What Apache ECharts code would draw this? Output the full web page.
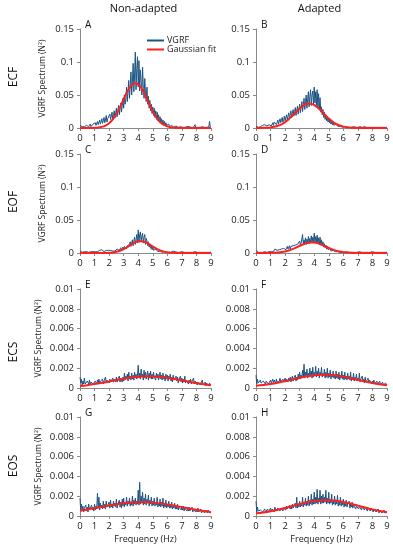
<!DOCTYPE html>
<html>
<head>
<meta charset="utf-8">
<script src="https://cdn.jsdelivr.net/npm/echarts@6/dist/echarts.min.js"></script>
<style>html,body{margin:0;padding:0;background:#fff;}#c{width:393px;height:550px;}</style>
</head>
<body>
<div id="c"></div>
<script>
// ---------- DATA ----------
const columnTitles = ['Non-adapted', 'Adapted'];
const rowTitles = ['ECF', 'EOF', 'ECS', 'EOS'];
const panelLetters = ['A', 'B', 'C', 'D', 'E', 'F', 'G', 'H'];
const xTicks = [0, 1, 2, 3, 4, 5, 6, 7, 8, 9];
const yTicksForce = [0, 0.05, 0.1, 0.15];
const yTicksSmall = [0, 0.002, 0.004, 0.006, 0.008, 0.01];

// frequency samples of the VGRF spectra (Hz)
const freq = [
0,0.05,0.1,0.15,0.2,0.25,0.3,0.35,0.4,0.45,0.5,0.55,0.6,0.65,0.7,0.75,0.8,0.85,0.9,0.95,
1,1.05,1.1,1.15,1.2,1.25,1.3,1.35,1.4,1.45,1.5,1.55,1.6,1.65,1.7,1.75,1.8,1.85,1.9,1.95,
2,2.05,2.1,2.15,2.2,2.25,2.3,2.35,2.4,2.45,2.5,2.55,2.6,2.65,2.7,2.75,2.8,2.85,2.9,2.95,
3,3.05,3.1,3.15,3.2,3.25,3.3,3.35,3.4,3.45,3.5,3.55,3.6,3.65,3.7,3.75,3.8,3.85,3.9,3.95,
4,4.05,4.1,4.15,4.2,4.25,4.3,4.35,4.4,4.45,4.5,4.55,4.6,4.65,4.7,4.75,4.8,4.85,4.9,4.95,
5,5.05,5.1,5.15,5.2,5.25,5.3,5.35,5.4,5.45,5.5,5.55,5.6,5.65,5.7,5.75,5.8,5.85,5.9,5.95,
6,6.05,6.1,6.15,6.2,6.25,6.3,6.35,6.4,6.45,6.5,6.55,6.6,6.65,6.7,6.75,6.8,6.85,6.9,6.95,
7,7.05,7.1,7.15,7.2,7.25,7.3,7.35,7.4,7.45,7.5,7.55,7.6,7.65,7.7,7.75,7.8,7.85,7.9,7.95,
8,8.05,8.1,8.15,8.2,8.25,8.3,8.35,8.4,8.45,8.5,8.55,8.6,8.65,8.7,8.75,8.8,8.85,8.9,8.95,
9];
// frequency samples of the Gaussian fits (Hz)
const fitFreqFine = [0,0.25,0.5,0.75,1,1.25,1.5,1.75,2,2.25,2.5,2.75,3,3.25,3.5,3.75,4,4.25,4.5,4.75,5,5.25,5.5,5.75,6,6.25,6.5,6.75,7,7.25,7.5,7.75,8,8.25,8.5,8.75,9];
const fitFreqCoarse = [0,0.5,1,1.5,2,2.5,3,3.5,4,4.5,5,5.5,6,6.5,7,7.5,8,8.5,9];

// A: ECF Non-adapted
const vgrfA = [
0.004,0.001,0.003,0.002,0.001,0.004,0.002,0.003,0.001,0.004,0.002,0.005,0.002,0.003,0.006,0.002,0.004,0.003,0.006,0.003,
0.005,0.008,0.004,0.006,0.010,0.005,0.008,0.012,0.006,0.009,0.014,0.007,0.011,0.016,0.008,0.012,0.019,0.009,0.014,0.017,
0.011,0.021,0.013,0.018,0.024,0.012,0.020,0.026,0.015,0.023,0.030,0.017,0.026,0.034,0.020,0.029,0.038,0.024,0.033,0.045,
0.030,0.050,0.036,0.044,0.062,0.040,0.055,0.072,0.045,0.064,0.085,0.050,0.070,0.098,0.055,0.082,0.115,0.058,0.090,0.108,
0.062,0.102,0.056,0.088,0.070,0.050,0.092,0.060,0.045,0.075,0.052,0.040,0.062,0.036,0.048,0.030,0.042,0.026,0.036,0.022,
0.032,0.019,0.030,0.016,0.026,0.013,0.024,0.011,0.020,0.009,0.017,0.008,0.014,0.006,0.012,0.005,0.010,0.004,0.008,0.004,
0.007,0.003,0.006,0.002,0.005,0.002,0.004,0.002,0.004,0.001,0.003,0.001,0.003,0.001,0.002,0.001,0.003,0.001,0.002,0.001,
0.002,0.001,0.002,0.001,0.001,0.002,0.001,0.002,0.001,0.001,0.002,0.001,0.003,0.001,0.001,0.002,0.001,0.001,0.005,0.001,
0.001,0.002,0.001,0.001,0.002,0.001,0.001,0.001,0.002,0.001,0.001,0.001,0.002,0.001,0.001,0.001,0.001,0.002,0.010,0.001,
0.001];
const fitA = [0,0.00001,0.00004,0.00011,0.0003,0.00075,0.00175,0.0037,0.0072,0.0129,0.0211,0.0317,0.0437,0.0552,0.0639,0.0679,0.0661,0.0591,0.0484,0.0364,0.0251,0.0159,0.0092,0.0049,0.0024,0.0011,0.00044,0.00017,0.00006,0.00002,0.00001,0,0,0,0,0,0];

// B: ECF Adapted
const vgrfB = [
0.003,0.001,0.002,0.001,0.003,0.001,0.002,0.003,0.001,0.004,0.002,0.003,0.005,0.002,0.004,0.003,0.006,0.002,0.005,0.004,
0.007,0.003,0.006,0.008,0.004,0.009,0.006,0.011,0.005,0.008,0.012,0.006,0.010,0.014,0.008,0.012,0.016,0.009,0.013,0.018,
0.011,0.016,0.020,0.012,0.018,0.023,0.014,0.020,0.026,0.016,0.022,0.028,0.018,0.025,0.031,0.019,0.027,0.033,0.021,0.030,
0.036,0.023,0.032,0.040,0.025,0.036,0.045,0.028,0.040,0.050,0.030,0.044,0.055,0.032,0.048,0.058,0.034,0.050,0.056,0.036,
0.062,0.038,0.055,0.034,0.058,0.030,0.052,0.028,0.046,0.024,0.032,0.020,0.028,0.016,0.024,0.013,0.020,0.011,0.017,0.009,
0.015,0.008,0.013,0.006,0.011,0.005,0.009,0.004,0.007,0.003,0.006,0.003,0.005,0.002,0.004,0.002,0.003,0.001,0.003,0.001,
0.002,0.001,0.002,0.001,0.002,0.001,0.001,0.002,0.001,0.001,0.002,0.001,0.001,0.001,0.002,0.001,0.001,0.001,0.001,0.002,
0.001,0.001,0.001,0.002,0.001,0.001,0.001,0.001,0.001,0.002,0.001,0.001,0.001,0.001,0.001,0.001,0.002,0.001,0.001,0.001,
0.001,0.001,0.001,0.001,0.001,0.001,0.001,0.001,0.001,0.001,0.001,0.001,0.001,0.001,0.001,0.001,0.001,0.001,0.001,0.001,
0.001];
const fitB = [0.00004,0.00009,0.00021,0.00046,0.00095,0.00185,0.00334,0.00565,0.00897,0.01334,0.01859,0.02427,0.0297,0.034,0.0366,0.0368,0.0347,0.0307,0.0254,0.0197,0.0143,0.00976,0.00623,0.00373,0.00209,0.0011,0.00054,0.00025,0.00011,0.00004,0.00002,0.00001,0,0,0,0,0];

// C: EOF Non-adapted
const vgrfC = [
0.003,0.001,0.002,0.001,0.002,0.001,0.002,0.001,0.001,0.002,0.001,0.002,0.001,0.002,0.001,0.002,0.003,0.001,0.002,0.002,
0.004,0.002,0.003,0.004,0.002,0.005,0.003,0.004,0.002,0.004,0.005,0.003,0.004,0.002,0.005,0.003,0.004,0.005,0.002,0.004,
0.005,0.003,0.004,0.002,0.005,0.003,0.004,0.006,0.003,0.005,0.004,0.006,0.003,0.007,0.004,0.006,0.008,0.004,0.007,0.009,
0.005,0.010,0.007,0.012,0.006,0.011,0.014,0.008,0.013,0.017,0.010,0.015,0.020,0.011,0.018,0.024,0.013,0.020,0.028,0.015,
0.035,0.016,0.028,0.032,0.017,0.026,0.030,0.015,0.024,0.028,0.013,0.022,0.018,0.011,0.017,0.009,0.013,0.007,0.011,0.005,
0.009,0.004,0.007,0.003,0.006,0.003,0.005,0.002,0.004,0.002,0.003,0.001,0.003,0.001,0.002,0.001,0.002,0.001,0.002,0.001,
0.002,0.001,0.001,0.002,0.001,0.001,0.002,0.001,0.003,0.001,0.001,0.002,0.001,0.001,0.001,0.002,0.001,0.001,0.001,0.001,
0.002,0.001,0.001,0.001,0.001,0.002,0.001,0.001,0.001,0.001,0.001,0.002,0.001,0.001,0.001,0.001,0.001,0.001,0.002,0.001,
0.001,0.001,0.001,0.001,0.001,0.001,0.001,0.001,0.001,0.001,0.001,0.001,0.001,0.001,0.001,0.001,0.001,0.001,0.001,0.001,
0.002];
const fitC = [0,0,0,0,0,0.00001,0.00005,0.00014,0.00037,0.00086,0.00181,0.00345,0.0059,0.0091,0.0126,0.0157,0.0177,0.0178,0.0162,0.0133,0.0098,0.0065,0.0039,0.0021,0.001,0.00044,0.00017,0.00006,0.00002,0.00001,0,0,0,0,0,0,0];

// D: EOF Adapted
const vgrfD = [
0.004,0.001,0.002,0.001,0.001,0.002,0.001,0.002,0.001,0.001,0.002,0.001,0.002,0.001,0.002,0.001,0.003,0.001,0.002,0.002,
0.004,0.002,0.003,0.005,0.002,0.004,0.006,0.003,0.005,0.004,0.007,0.003,0.005,0.007,0.004,0.006,0.008,0.004,0.007,0.005,
0.009,0.005,0.008,0.010,0.006,0.009,0.011,0.006,0.010,0.012,0.007,0.011,0.013,0.008,0.012,0.014,0.009,0.013,0.016,0.010,
0.018,0.011,0.015,0.012,0.028,0.013,0.020,0.014,0.023,0.013,0.021,0.015,0.025,0.014,0.022,0.016,0.026,0.015,0.024,0.017,
0.030,0.016,0.025,0.015,0.027,0.014,0.023,0.013,0.024,0.012,0.020,0.011,0.017,0.009,0.014,0.008,0.012,0.006,0.010,0.005,
0.008,0.004,0.007,0.003,0.005,0.003,0.004,0.002,0.003,0.002,0.003,0.001,0.002,0.001,0.002,0.001,0.002,0.001,0.001,0.001,
0.002,0.001,0.001,0.001,0.002,0.001,0.001,0.001,0.001,0.002,0.001,0.001,0.001,0.001,0.002,0.001,0.001,0.001,0.001,0.001,
0.001,0.001,0.002,0.001,0.001,0.001,0.001,0.001,0.001,0.001,0.001,0.001,0.001,0.002,0.001,0.001,0.001,0.001,0.001,0.001,
0.002,0.001,0.001,0.001,0.001,0.001,0.001,0.001,0.001,0.001,0.001,0.001,0.001,0.001,0.001,0.001,0.001,0.001,0.001,0.001,
0.001];
const fitD = [0,0.00001,0.00003,0.00008,0.00018,0.00038,0.00075,0.00139,0.0024,0.00387,0.00583,0.00818,0.01072,0.0131,0.01495,0.01591,0.0158,0.01464,0.01266,0.01021,0.00769,0.0054,0.00354,0.00217,0.00124,0.00066,0.00033,0.00015,0.00007,0.00003,0.00001,0,0,0,0,0,0];

// E: ECS Non-adapted
const vgrfE = [
0.0011,0.0005,0.0009,0.0003,0.0007,0.0004,0.0010,0.0004,0.0006,0.0003,0.0007,0.0005,0.0004,0.0008,0.0003,0.0006,0.0005,0.0008,0.0004,0.0006,
0.0004,0.0007,0.0005,0.0004,0.0008,0.0005,0.0009,0.0004,0.0007,0.0005,0.0006,0.0009,0.0004,0.0007,0.0005,0.0011,0.0005,0.0008,0.0006,0.0010,
0.0005,0.0009,0.0006,0.0008,0.0005,0.0010,0.0006,0.0009,0.0007,0.0006,0.0011,0.0006,0.0009,0.0007,0.0012,0.0006,0.0010,0.0008,0.0006,0.0011,
0.0007,0.0015,0.0008,0.0012,0.0009,0.0014,0.0007,0.0016,0.0009,0.0012,0.0008,0.0015,0.0009,0.0013,0.0008,0.0016,0.0010,0.0014,0.0009,0.0013,
0.0023,0.0010,0.0015,0.0009,0.0019,0.0011,0.0014,0.0008,0.0018,0.0010,0.0016,0.0009,0.0013,0.0017,0.0008,0.0015,0.0010,0.0017,0.0009,0.0014,
0.0009,0.0016,0.0011,0.0013,0.0008,0.0015,0.0010,0.0014,0.0008,0.0012,0.0016,0.0009,0.0013,0.0008,0.0015,0.0009,0.0012,0.0007,0.0014,0.0009,
0.0013,0.0007,0.0012,0.0009,0.0014,0.0007,0.0011,0.0006,0.0013,0.0008,0.0010,0.0006,0.0012,0.0007,0.0011,0.0005,0.0009,0.0007,0.0012,0.0006,
0.0010,0.0005,0.0009,0.0006,0.0012,0.0005,0.0008,0.0006,0.0010,0.0004,0.0008,0.0005,0.0009,0.0004,0.0007,0.0005,0.0010,0.0004,0.0007,0.0005,
0.0008,0.0003,0.0006,0.0004,0.0007,0.0003,0.0005,0.0004,0.0008,0.0003,0.0005,0.0003,0.0006,0.0002,0.0005,0.0004,0.0006,0.0002,0.0005,0.0003,
0.0004];
const fitE = [0.000202,0.000288,0.000395,0.00052,0.000659,0.000801,0.000936,0.001052,0.001135,0.001176,0.001172,0.001121,0.001031,0.000911,0.000773,0.00063,0.000494,0.000372,0.000269];

// F: ECS Adapted
const vgrfF = [
0.0013,0.0004,0.0009,0.0005,0.0007,0.0004,0.0008,0.0005,0.0006,0.0004,0.0007,0.0005,0.0008,0.0004,0.0007,0.0005,0.0009,0.0004,0.0006,0.0005,
0.0008,0.0005,0.0007,0.0009,0.0005,0.0008,0.0006,0.0005,0.0009,0.0006,0.0008,0.0005,0.0007,0.0010,0.0006,0.0008,0.0006,0.0009,0.0006,0.0008,
0.0010,0.0006,0.0009,0.0007,0.0006,0.0010,0.0007,0.0011,0.0006,0.0009,0.0012,0.0007,0.0010,0.0008,0.0013,0.0007,0.0011,0.0008,0.0014,0.0009,
0.0016,0.0009,0.0013,0.0010,0.0018,0.0011,0.0024,0.0010,0.0016,0.0012,0.0019,0.0010,0.0015,0.0011,0.0020,0.0012,0.0017,0.0010,0.0021,0.0011,
0.0016,0.0012,0.0022,0.0011,0.0017,0.0012,0.0020,0.0010,0.0016,0.0013,0.0021,0.0011,0.0015,0.0012,0.0019,0.0010,0.0016,0.0011,0.0020,0.0010,
0.0015,0.0011,0.0018,0.0009,0.0014,0.0011,0.0017,0.0010,0.0013,0.0009,0.0017,0.0010,0.0014,0.0009,0.0016,0.0008,0.0013,0.0010,0.0017,0.0009,
0.0013,0.0008,0.0016,0.0009,0.0012,0.0008,0.0015,0.0009,0.0012,0.0008,0.0016,0.0007,0.0011,0.0008,0.0015,0.0007,0.0011,0.0008,0.0014,0.0007,
0.0010,0.0007,0.0015,0.0006,0.0009,0.0007,0.0012,0.0006,0.0009,0.0005,0.0011,0.0006,0.0008,0.0005,0.0010,0.0005,0.0008,0.0006,0.0009,0.0004,
0.0007,0.0004,0.0008,0.0004,0.0006,0.0003,0.0007,0.0004,0.0005,0.0003,0.0007,0.0003,0.0005,0.0004,0.0006,0.0003,0.0005,0.0003,0.0005,0.0003,
0.0003];
const fitF = [0.000228,0.000302,0.000404,0.000534,0.000689,0.000858,0.001027,0.001177,0.001288,0.001345,0.001338,0.00127,0.00115,0.000994,0.000824,0.000656,0.000506,0.000381,0.000285];

// G: EOS Non-adapted
const vgrfG = [
0.0018,0.0005,0.0012,0.0006,0.0010,0.0004,0.0008,0.0006,0.0011,0.0005,0.0009,0.0004,0.0012,0.0006,0.0008,0.0005,0.0011,0.0006,0.0009,0.0005,
0.0012,0.0006,0.0010,0.0007,0.0023,0.0008,0.0019,0.0006,0.0013,0.0008,0.0011,0.0007,0.0015,0.0008,0.0012,0.0007,0.0015,0.0009,0.0011,0.0008,
0.0014,0.0008,0.0016,0.0009,0.0012,0.0008,0.0015,0.0010,0.0013,0.0009,0.0017,0.0008,0.0012,0.0010,0.0016,0.0009,0.0014,0.0008,0.0017,0.0010,
0.0018,0.0009,0.0014,0.0011,0.0019,0.0010,0.0015,0.0012,0.0018,0.0010,0.0014,0.0011,0.0020,0.0010,0.0016,0.0012,0.0018,0.0011,0.0015,0.0012,
0.0026,0.0011,0.0034,0.0012,0.0020,0.0013,0.0024,0.0011,0.0018,0.0012,0.0022,0.0011,0.0017,0.0013,0.0021,0.0010,0.0016,0.0012,0.0019,0.0010,
0.0015,0.0011,0.0018,0.0010,0.0014,0.0011,0.0019,0.0009,0.0013,0.0010,0.0017,0.0009,0.0014,0.0010,0.0018,0.0008,0.0013,0.0009,0.0016,0.0008,
0.0012,0.0009,0.0015,0.0008,0.0011,0.0008,0.0014,0.0007,0.0011,0.0008,0.0013,0.0007,0.0010,0.0007,0.0012,0.0006,0.0009,0.0007,0.0011,0.0006,
0.0009,0.0006,0.0010,0.0005,0.0008,0.0006,0.0010,0.0005,0.0008,0.0005,0.0009,0.0005,0.0007,0.0005,0.0009,0.0004,0.0007,0.0005,0.0008,0.0004,
0.0007,0.0004,0.0008,0.0004,0.0006,0.0004,0.0007,0.0003,0.0006,0.0004,0.0007,0.0003,0.0005,0.0004,0.0006,0.0003,0.0006,0.0004,0.0006,0.0003,
0.0004];
const fitG = [0.000525,0.000654,0.000793,0.000934,0.00107,0.001192,0.001292,0.001362,0.001397,0.001393,0.001351,0.001275,0.001169,0.001044,0.000906,0.000765,0.000628,0.000501,0.000389];

// H: EOS Adapted
const vgrfH = [
0.0015,0.0004,0.0009,0.0005,0.0007,0.0003,0.0006,0.0004,0.0008,0.0004,0.0006,0.0003,0.0007,0.0004,0.0005,0.0003,0.0007,0.0004,0.0006,0.0004,
0.0008,0.0004,0.0007,0.0005,0.0008,0.0004,0.0009,0.0005,0.0007,0.0005,0.0008,0.0006,0.0009,0.0005,0.0008,0.0006,0.0010,0.0005,0.0008,0.0006,
0.0009,0.0006,0.0010,0.0007,0.0009,0.0006,0.0011,0.0007,0.0010,0.0007,0.0012,0.0008,0.0010,0.0007,0.0013,0.0008,0.0019,0.0008,0.0012,0.0009,
0.0015,0.0009,0.0013,0.0010,0.0019,0.0009,0.0014,0.0011,0.0018,0.0010,0.0015,0.0011,0.0020,0.0010,0.0016,0.0012,0.0022,0.0011,0.0017,0.0012,
0.0024,0.0012,0.0019,0.0013,0.0027,0.0012,0.0018,0.0014,0.0026,0.0012,0.0020,0.0013,0.0022,0.0013,0.0019,0.0014,0.0026,0.0012,0.0018,0.0013,
0.0024,0.0012,0.0017,0.0013,0.0022,0.0011,0.0016,0.0012,0.0020,0.0011,0.0016,0.0012,0.0021,0.0010,0.0015,0.0011,0.0019,0.0010,0.0014,0.0011,
0.0017,0.0009,0.0013,0.0010,0.0016,0.0009,0.0012,0.0010,0.0015,0.0008,0.0012,0.0009,0.0014,0.0008,0.0011,0.0009,0.0013,0.0007,0.0010,0.0008,
0.0012,0.0007,0.0010,0.0008,0.0012,0.0006,0.0009,0.0007,0.0011,0.0006,0.0009,0.0007,0.0010,0.0005,0.0008,0.0006,0.0009,0.0005,0.0008,0.0006,
0.0008,0.0004,0.0007,0.0005,0.0008,0.0004,0.0006,0.0004,0.0007,0.0003,0.0006,0.0004,0.0007,0.0003,0.0005,0.0004,0.0006,0.0003,0.0005,0.0003,
0.0004];
const fitH = [0.00027,0.000361,0.000483,0.000636,0.000815,0.00101,0.001204,0.001379,0.001512,0.001587,0.001594,0.001532,0.001409,0.001242,0.001049,0.000853,0.00067,0.000511,0.000383];

// ---------- LAYOUT / STYLE ----------
const FONT = '"Open Sans", "Liberation Sans", sans-serif';
const BLUE = '#1b5482';
const RED = '#ff1f1f';
const AXIS = '#8a8a8a';
const colLeft = [80, 256];
const rowTop = [29, 154, 289, 417];
const plotW = 131, plotH = 99;

const panels = [
  {v: vgrfA, f: fitA, fx: fitFreqFine, ticks: yTicksForce},
  {v: vgrfB, f: fitB, fx: fitFreqFine, ticks: yTicksForce},
  {v: vgrfC, f: fitC, fx: fitFreqFine, ticks: yTicksForce},
  {v: vgrfD, f: fitD, fx: fitFreqFine, ticks: yTicksForce},
  {v: vgrfE, f: fitE, fx: fitFreqCoarse, ticks: yTicksSmall},
  {v: vgrfF, f: fitF, fx: fitFreqCoarse, ticks: yTicksSmall},
  {v: vgrfG, f: fitG, fx: fitFreqCoarse, ticks: yTicksSmall},
  {v: vgrfH, f: fitH, fx: fitFreqCoarse, ticks: yTicksSmall}
];

const zip = (xs, ys) => ys.map((y, i) => [xs[i], y]);

const grid = [], xAxis = [], yAxis = [], series = [], graphic = [];
panels.forEach((p, i) => {
  const col = i % 2, row = Math.floor(i / 2);
  grid.push({left: colLeft[col], top: rowTop[row], width: plotW, height: plotH, containLabel: false});
  xAxis.push({
    type: 'value', gridIndex: i, min: xTicks[0], max: xTicks[xTicks.length - 1], interval: 1,
    axisLine: {show: true, lineStyle: {color: AXIS, width: 1}},
    axisTick: {show: true, length: 3, lineStyle: {color: AXIS}},
    axisLabel: {fontSize: 9.5, color: '#222', margin: 5, fontFamily: FONT},
    splitLine: {show: false},
    name: row === 3 ? 'Frequency (Hz)' : '',
    nameLocation: 'middle', nameGap: 19,
    nameTextStyle: {fontSize: 9, color: '#222', fontFamily: FONT}
  });
  const t = p.ticks;
  yAxis.push({
    type: 'value', gridIndex: i, min: t[0], max: t[t.length - 1], interval: t[1] - t[0],
    axisLine: {show: true, lineStyle: {color: AXIS, width: 1}},
    axisTick: {show: true, length: 3, lineStyle: {color: AXIS}},
    axisLabel: {fontSize: 9.5, color: '#222', margin: 6, fontFamily: FONT},
    splitLine: {show: false},
    name: col === 0 ? 'VGRF Spectrum (N²)' : '',
    nameLocation: 'middle', nameGap: t === yTicksSmall ? 37 : 33, nameRotate: 90,
    nameTextStyle: {fontSize: 8.5, color: '#222', fontFamily: FONT}
  });
  series.push({
    name: 'VGRF', type: 'line', xAxisIndex: i, yAxisIndex: i,
    data: zip(freq, p.v), showSymbol: false, symbol: 'none',
    lineStyle: {color: BLUE, width: 1}, itemStyle: {color: BLUE}, z: 2
  });
  series.push({
    name: 'Gaussian fit', type: 'line', xAxisIndex: i, yAxisIndex: i,
    data: zip(p.fx, p.f), showSymbol: false, symbol: 'none', smooth: 0.4,
    lineStyle: {color: RED, width: 2}, itemStyle: {color: RED}, z: 3
  });
  graphic.push({type: 'text', x: colLeft[col] + 5, y: rowTop[row] - 9,
    style: {text: panelLetters[i], fontSize: 10, fill: '#111', fontFamily: FONT}});
});

columnTitles.forEach((t, c) => {
  graphic.push({type: 'text', x: colLeft[c] + plotW / 2 - 2, y: 3,
    style: {text: t, fontSize: 11, fill: '#111', fontFamily: FONT, textAlign: 'center'}});
});
const rowLabelY = [77, 202, 352, 466];
rowTitles.forEach((t, r) => {
  graphic.push({type: 'text', x: 14, y: rowLabelY[r], rotation: Math.PI / 2,
    style: {text: t, fontSize: 12, fill: '#111', fontFamily: FONT, textAlign: 'center', textVerticalAlign: 'middle'}});
});

const chart = echarts.init(document.getElementById('c'), null, {renderer: 'canvas'});
chart.setOption({
  animation: false,
  textStyle: {fontFamily: FONT},
  grid, xAxis, yAxis, series, graphic,
  legend: {
    data: ['VGRF', 'Gaussian fit'], orient: 'vertical', left: 147, top: 36,
    icon: 'rect', itemWidth: 17, itemHeight: 2, itemGap: 0, padding: 0,
    textStyle: {fontSize: 9, color: '#222', fontFamily: FONT, padding: [0, 0, 0, -2]}
  }
});
</script>
</body>
</html>
